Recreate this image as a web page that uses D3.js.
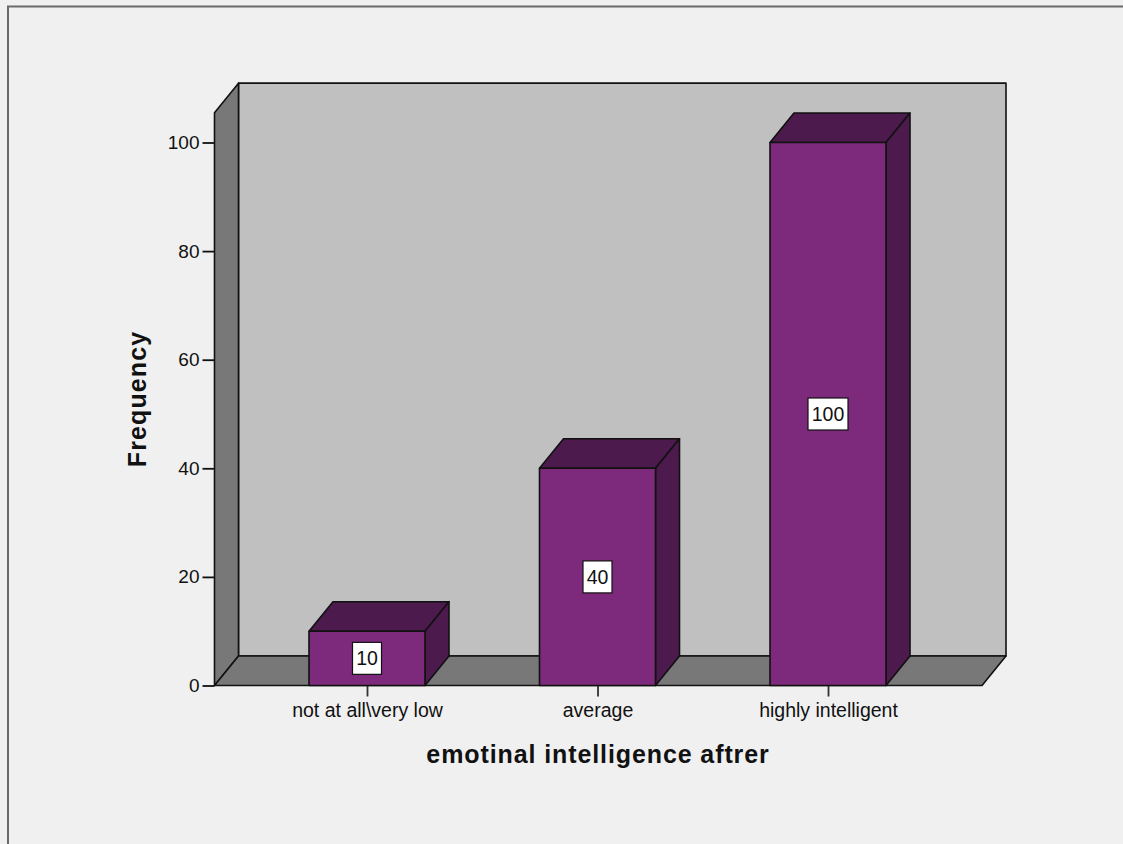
<!DOCTYPE html>
<html>
<head>
<meta charset="utf-8">
<script src="https://cdn.jsdelivr.net/npm/d3@7"></script>
<style>
  html, body { margin: 0; padding: 0; background: #f0f0f0; }
  svg { display: block; }
  text { font-family: "Liberation Sans", Arial, sans-serif; fill: #111; }
</style>
</head>
<body>
<script>
var categories = ["not at all\\very low", "average", "highly intelligent"]
var frequencies = [10, 40, 100]
var yTicks = [0, 20, 40, 60, 80, 100]

var width = 1123, height = 844
var depthX = 24, depthY = 29.5   // oblique offset of the 3D box
var barWidth = 116
var yTop = 105.5                 // axis runs a little past the last tick

var svg = d3.select("body").append("svg")
    .attr("width", width)
    .attr("height", height)

var y = d3.scaleLinear().domain([0, 100]).range([685.5, 142.5])
var x = d3.scalePoint().domain(categories).range([367, 828])

var wallLeft = 214.5, wallRight = 982

function poly(points, fill) {
  return svg.append("polygon")
    .attr("points", points.map(function(p) { return p.join(",") }).join(" "))
    .attr("fill", fill)
    .attr("stroke", "#111")
    .attr("stroke-width", 1.6)
    .attr("stroke-linejoin", "round")
}

// window frame, top and left only
svg.append("path")
    .attr("d", "M8,844V6.5H1123")
    .attr("fill", "none")
    .attr("stroke", "#6a6a6a")
    .attr("stroke-width", 2)

// back wall, side wall, floor
poly([[wallLeft + depthX, y(yTop) - depthY], [wallRight + depthX, y(yTop) - depthY], [wallRight + depthX, y(0) - depthY], [wallLeft + depthX, y(0) - depthY]], "#c0c0c0")
poly([[wallLeft, y(yTop)], [wallLeft + depthX, y(yTop) - depthY], [wallLeft + depthX, y(0) - depthY], [wallLeft, y(0)]], "#787878")
poly([[wallLeft, y(0)], [wallLeft + depthX, y(0) - depthY], [wallRight + depthX, y(0) - depthY], [wallRight, y(0)]], "#787878")

// y axis
var yAxis = d3.axisLeft(y).tickValues(yTicks).tickSize(12).tickPadding(3).tickFormat(d3.format("d"))
var yG = svg.append("g").attr("transform", "translate(" + wallLeft + ",0)").call(yAxis)
yG.select(".domain").remove()
yG.selectAll("line").attr("stroke", "#111").attr("stroke-width", 1.8)
yG.selectAll("text").attr("font-size", 19).attr("font-family", null).attr("fill", "#222")

// x axis
var xAxis = d3.axisBottom(x).tickSize(11).tickPadding(7)
var xG = svg.append("g").attr("transform", "translate(0," + y(0) + ")").call(xAxis)
xG.select(".domain").remove()
xG.selectAll("line").attr("stroke", "#333").attr("stroke-width", 1.8)
xG.selectAll("text").attr("font-size", 19.5).attr("font-family", null).attr("fill", "#222")

// bars
categories.forEach(function(c, i) {
  var v = frequencies[i]
  var left = x(c) - barWidth / 2, right = x(c) + barWidth / 2
  poly([[left, y(v)], [left + depthX, y(v) - depthY], [right + depthX, y(v) - depthY], [right, y(v)]], "#4c1a4c")
  poly([[right, y(v)], [right + depthX, y(v) - depthY], [right + depthX, y(0) - depthY], [right, y(0)]], "#4c1a4c")
  poly([[left, y(v)], [right, y(v)], [right, y(0)], [left, y(0)]], "#7e2a7c")

  // value label sits at the middle of the bar
  var boxW = String(v).length > 2 ? 40 : 29, boxH = 32
  var cy = y(v / 2)
  svg.append("rect")
    .attr("x", x(c) - boxW / 2)
    .attr("y", cy - boxH / 2)
    .attr("width", boxW)
    .attr("height", boxH)
    .attr("fill", "#fff")
    .attr("stroke", "#111")
    .attr("stroke-width", 1.2)
  svg.append("text")
    .attr("x", x(c))
    .attr("y", cy + 7)
    .attr("text-anchor", "middle")
    .attr("font-size", 19.5)
    .text(v)
})

// axis titles
svg.append("text")
    .attr("x", 598)
    .attr("y", 763)
    .attr("text-anchor", "middle")
    .attr("font-size", 25)
    .attr("letter-spacing", 0.9)
    .attr("font-weight", "bold")
    .text("emotinal intelligence aftrer")

svg.append("text")
    .attr("transform", "translate(146,399) rotate(-90)")
    .attr("text-anchor", "middle")
    .attr("font-size", 25)
    .attr("letter-spacing", 1.1)
    .attr("font-weight", "bold")
    .text("Frequency")
</script>
</body>
</html>
